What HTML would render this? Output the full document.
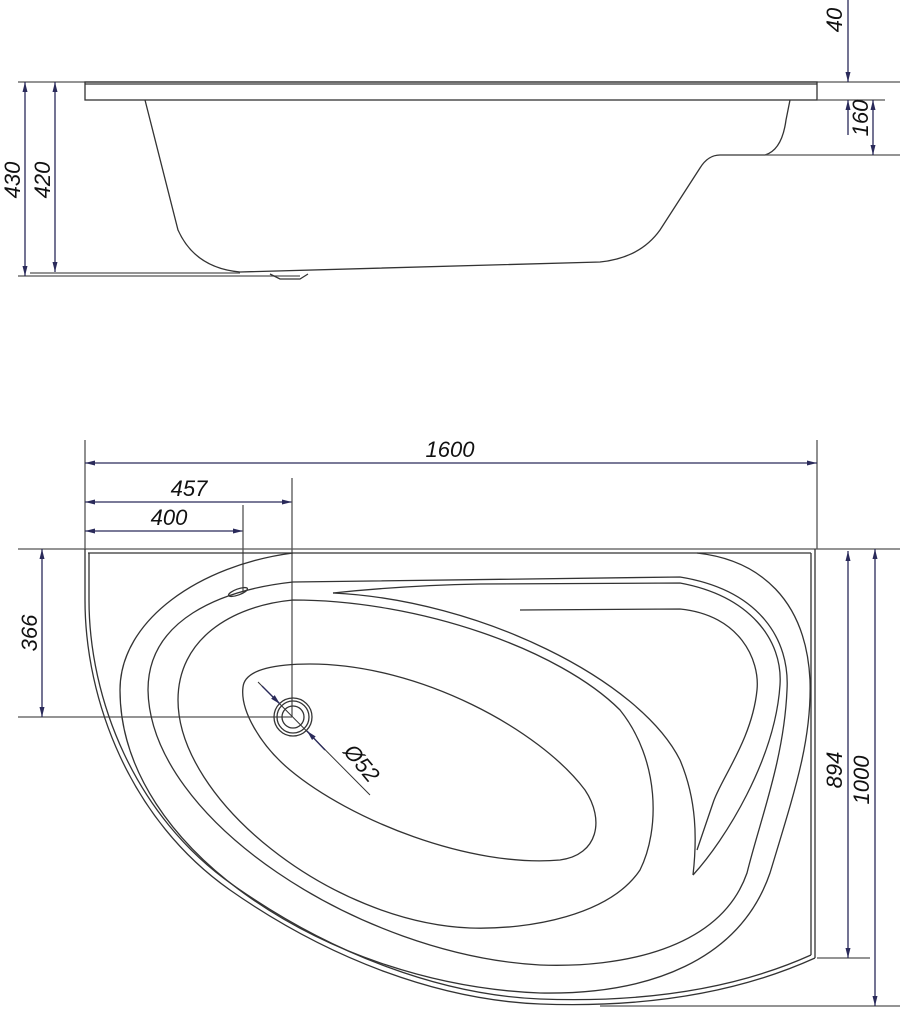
<!DOCTYPE html>
<html><head><meta charset="utf-8"><style>
html,body{margin:0;padding:0;background:#fff;}
svg{display:block;}
text{font-family:"Liberation Sans",Arial,sans-serif;font-size:22px;font-style:italic;fill:#111;}
</style></head><body>
<svg width="900" height="1010" viewBox="0 0 900 1010" xmlns="http://www.w3.org/2000/svg">
<defs>
<marker id="a" markerWidth="10" markerHeight="8" refX="10" refY="4" orient="auto-start-reverse" markerUnits="userSpaceOnUse">
<path d="M0,1.5 L10,4 L0,6.5 Z" fill="#2a2a5a"/></marker>
</defs>
<g stroke="#333" stroke-width="1.3" fill="none">
<!-- SIDE VIEW -->
<line x1="18" y1="82" x2="900" y2="82" stroke="#555"/>
<line x1="18" y1="276" x2="300" y2="276" stroke="#555"/>
<line x1="30" y1="273" x2="240" y2="273" stroke="#555"/>
<rect x="85" y="82" width="732" height="18"/>
<line x1="85" y1="84" x2="817" y2="84"/>
<path d="M145,100 L178,230 Q195,268 240,272 L600,262 Q640,258 660,230 L700,168 Q708,155 720,155 L765,155 Q782,150 786,120 L790,100"/>
<path d="M270,274 L280,279 L300,279 L308,274"/>
<line x1="720" y1="155" x2="900" y2="155" stroke="#555"/>
<line x1="817" y1="100" x2="885" y2="100" stroke="#555"/>
<line x1="25" y1="82" x2="25" y2="276" stroke="#2a2a5a" marker-start="url(#a)" marker-end="url(#a)"/>
<line x1="55" y1="82" x2="55" y2="272" stroke="#2a2a5a" marker-start="url(#a)" marker-end="url(#a)"/>
<line x1="848" y1="0" x2="848" y2="82" stroke="#2a2a5a" marker-end="url(#a)"/>
<line x1="848" y1="135" x2="848" y2="100" stroke="#2a2a5a" marker-end="url(#a)"/>
<line x1="873" y1="100" x2="873" y2="155" stroke="#2a2a5a" marker-start="url(#a)" marker-end="url(#a)"/>

<!-- PLAN VIEW dims -->
<line x1="85" y1="440" x2="85" y2="549" stroke="#555"/>
<line x1="817" y1="440" x2="817" y2="549" stroke="#555"/>
<line x1="85" y1="463" x2="817" y2="463" stroke="#2a2a5a" marker-start="url(#a)" marker-end="url(#a)"/>
<line x1="85" y1="502" x2="292" y2="502" stroke="#2a2a5a" marker-start="url(#a)" marker-end="url(#a)"/>
<line x1="85" y1="531" x2="243" y2="531" stroke="#2a2a5a" marker-start="url(#a)" marker-end="url(#a)"/>
<line x1="292" y1="478" x2="292" y2="717" stroke="#555"/>
<line x1="243" y1="505" x2="243" y2="592" stroke="#555"/>
<line x1="18" y1="549" x2="900" y2="549" stroke="#555"/>
<line x1="18" y1="717" x2="292" y2="717" stroke="#555"/>
<line x1="42" y1="549" x2="42" y2="717" stroke="#2a2a5a" marker-start="url(#a)" marker-end="url(#a)"/>
<line x1="600" y1="1006" x2="900" y2="1006" stroke="#555"/>
<line x1="817" y1="958" x2="870" y2="958" stroke="#555"/>
<line x1="848" y1="551" x2="848" y2="958" stroke="#2a2a5a" marker-start="url(#a)" marker-end="url(#a)"/>
<line x1="875" y1="549" x2="875" y2="1006" stroke="#2a2a5a" marker-start="url(#a)" marker-end="url(#a)"/>
<line x1="815" y1="549" x2="815" y2="958"/>
<line x1="88" y1="553" x2="811" y2="553"/>
<line x1="811" y1="553" x2="811" y2="955"/>
<!-- outline -->
<path d="M85,549 L85,600 C85,700 130,820 230,890 C330,960 440,1000 540,1004 Q700,1010 815,958"/>
<path d="M89,553 L89,600 C89,698 134,816 233,885 C332,955 442,995 540,999 Q700,1005 811,955"/>
<!-- ring1 -->
<path d="M293,553 C200,565 120,620 120,690 C120,850 330,985 540,993 C650,995 740,960 770,873 C795,790 812,740 810,680 C806,600 760,560 697,553"/>
<!-- ring2 -->
<path d="M293,582 L680,577 C760,590 790,640 787,690 C784,760 760,820 747,873 C720,950 620,968 540,965 C360,955 150,820 148,690 C148,620 220,590 293,582Z"/>
<path d="M480,584 L680,583 C750,596 783,640 780,685 C775,760 725,840 693,875"/>
<!-- swoosh -->
<path d="M333,593 C380,588 430,585 480,584"/>
<path d="M333,593 C480,600 640,680 680,760 C697,800 697,840 693,875"/>
<path d="M520,610 L680,609 C740,615 760,660 757,690 C752,740 720,780 713,803 L697,850"/>
<!-- ring3 -->
<path d="M293,600 C420,600 560,650 620,710 C660,760 660,830 640,870 C610,915 530,930 470,928 C330,922 178,800 178,700 C178,640 230,606 293,600Z"/>
<!-- basin -->
<path d="M243,687 C245,668 280,664 310,664 C420,664 540,730 585,790 C605,820 598,855 560,860 C470,868 350,820 290,770 C260,745 240,710 243,687Z"/>
<ellipse cx="238" cy="592" rx="10" ry="3" transform="rotate(-20 238 592)"/>
<!-- drain -->
<circle cx="293" cy="717" r="19"/>
<circle cx="293" cy="717" r="16"/>
<circle cx="293" cy="717" r="11"/>
<line x1="258" y1="682" x2="370" y2="795" stroke="#333" stroke-width="1"/>
<line x1="262" y1="686" x2="280" y2="704" stroke="#2a2a5a" marker-end="url(#a)"/>
<line x1="325" y1="750" x2="307" y2="731" stroke="#2a2a5a" marker-end="url(#a)"/>
</g>
<!-- texts -->
<text transform="translate(20,180) rotate(-90)" text-anchor="middle">430</text>
<text transform="translate(50,180) rotate(-90)" text-anchor="middle">420</text>
<text transform="translate(842,20) rotate(-90)" text-anchor="middle">40</text>
<text transform="translate(868,118) rotate(-90)" text-anchor="middle">160</text>
<text x="450" y="457" text-anchor="middle">1600</text>
<text x="189" y="496" text-anchor="middle">457</text>
<text x="169" y="525" text-anchor="middle">400</text>
<text transform="translate(37,633) rotate(-90)" text-anchor="middle">366</text>
<text transform="translate(842,770) rotate(-90)" text-anchor="middle">894</text>
<text transform="translate(869,780) rotate(-90)" text-anchor="middle">1000</text>
<text transform="translate(356,768) rotate(50)" text-anchor="middle">Ø52</text>
</svg>
</body></html>
